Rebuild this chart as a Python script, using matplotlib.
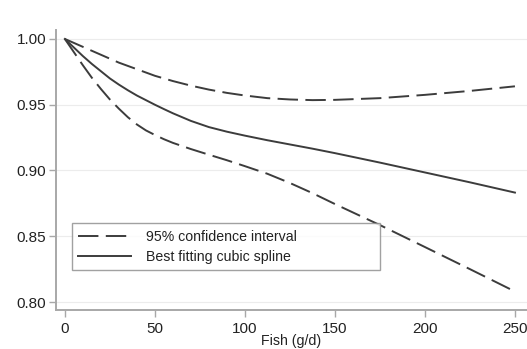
import matplotlib.pyplot as plt

plt.rcParams['font.family'] = ['Liberation Sans', 'DejaVu Sans']

# fish intake (g/d) and relative risk estimates
fish = [0, 5, 10, 15, 20, 25, 30, 35, 40, 45, 50, 55, 60, 70, 80, 90, 100,
        112.5, 125, 137.5, 150, 175, 200, 225, 250]
spline = [1.000, 0.9935, 0.987, 0.981, 0.9755, 0.970, 0.9653, 0.961, 0.957, 0.9535, 0.950,
          0.9467, 0.9435, 0.9377, 0.933, 0.9295, 0.9265, 0.923, 0.9198, 0.9166, 0.9132,
          0.906, 0.8985, 0.891, 0.8832]
ci_upper = [1.000, 0.997, 0.994, 0.991, 0.988, 0.985, 0.982, 0.9795, 0.977, 0.9745, 0.972,
            0.970, 0.968, 0.9645, 0.9615, 0.959, 0.957, 0.955, 0.954, 0.9535, 0.9537,
            0.955, 0.9575, 0.9605, 0.964]
ci_lower = [1.000, 0.990, 0.980, 0.9705, 0.962, 0.954, 0.947, 0.9405, 0.935, 0.9305, 0.927,
            0.9238, 0.921, 0.9163, 0.912, 0.9078, 0.9033, 0.8975, 0.8905, 0.8828, 0.8745,
            0.8585, 0.8418, 0.825, 0.808]

xticks = [0, 50, 100, 150, 200, 250]
yticks = [0.80, 0.85, 0.90, 0.95, 1.00]

fig = plt.figure(figsize=(5.27, 3.49), dpi=100)
ax = fig.add_axes([0.106, 0.112, 0.894, 0.802])

line_col = '#3c3c3c'
dash = (0, (10.5, 3.8))
ax.plot(fish, ci_upper, color=line_col, lw=1.4, linestyle=dash, label='95% confidence interval')
ax.plot(fish, spline, color=line_col, lw=1.4, label='Best fitting cubic spline')
ax.plot(fish, ci_lower, color=line_col, lw=1.4, linestyle=dash)

ax.set_xlim(-5, 256.7)
ax.set_ylim(0.794, 1.0068)
ax.set_xticks(xticks)
ax.set_yticks(yticks)
ax.set_yticklabels(['%.2f' % t for t in yticks])
ax.yaxis.grid(True, color='#ececec', lw=0.8)
ax.set_axisbelow(True)

for s in ['top', 'right']:
    ax.spines[s].set_visible(False)
for s in ['left', 'bottom']:
    ax.spines[s].set_color('#a8a8a8')
    ax.spines[s].set_linewidth(1.4)

ax.tick_params(axis='both', colors='#a8a8a8', labelcolor='#222222', labelsize=11,
               length=5, width=1)
ax.tick_params(axis='y', pad=2)
ax.set_xlabel('Fish (g/d)', fontsize=10.2, color='#222222', labelpad=-1.5)

leg = ax.legend(loc='lower left', bbox_to_anchor=(0.034, 0.143, 0.654, 0.161), mode='expand',
                fontsize=10.2, frameon=True, fancybox=False, handlelength=3.7,
                handletextpad=1.05, borderpad=0.45, labelspacing=0.4, borderaxespad=0,
                edgecolor='#8a8a8a')
leg.get_frame().set_linewidth(1.0)
for t in leg.get_texts():
    t.set_color('#222222')

fig.savefig('out.png', dpi=100)
